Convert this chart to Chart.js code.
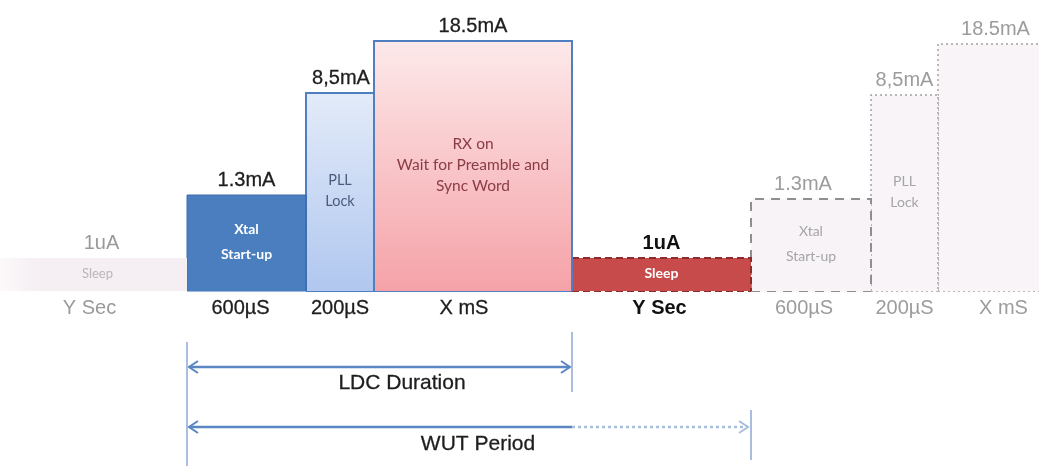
<!DOCTYPE html>
<html>
<head>
<meta charset="utf-8">
<script src="https://cdn.jsdelivr.net/npm/chart.js@4.4.1/dist/chart.umd.min.js"></script>
<style>
  html, body { margin: 0; padding: 0; background: #fff; }
  #wrap { width: 1039px; height: 466px; position: relative; }
</style>
</head>
<body>
<div id="wrap"><canvas id="ldcChart"></canvas></div>
<script>
// timeline in diagram units (not to time scale), level = drawn height of the current step
const phaseNames = ['Sleep', 'Xtal Start-up', 'PLL Lock', 'RX on', 'Sleep', 'Xtal Start-up', 'PLL Lock', 'RX on'];
const boxTexts = [['Sleep'], ['Xtal', 'Start-up'], ['PLL', 'Lock'], ['RX on', 'Wait for Preamble and', 'Sync Word'], ['Sleep'], ['Xtal', 'Start-up'], ['PLL', 'Lock'], []];
const currentLabels = ['1uA', '1.3mA', '8,5mA', '18.5mA', '1uA', '1.3mA', '8,5mA', '18.5mA'];
const durationLabels = ['Y Sec', '600µS', '200µS', 'X mS', 'Y Sec', '600µS', '200µS', 'X mS'];
const phaseStart = [0, 187, 306, 374, 572, 751, 871, 938];
const phaseEnd = [187, 306, 374, 572, 751, 871, 938, 1045];
const levels = [33, 96, 198, 250, 33, 92, 196, 247];

const ldcSpan = [187, 572];
const wutSpan = [187, 751];

// layout (diagram units below the baseline)
const ldcArrowY = -76;
const wutArrowY = -136;
const arrowColor = '#5b86c4';
const labelFont = '"Liberation Sans", Arial, sans-serif';
const boxFont = 'Lato, "Open Sans", sans-serif';

// look of each phase
const phaseStyles = [
  { fill: 'fadeH', border: null, text: '#bdb5ba', textSize: 13, textWeight: 'normal', labelColor: '#9a9a9a', labelWeight: 'normal', dx: 8, durDx: -4 },
  { fill: '#4a7ebf', border: '#3d6eae', width: 1, dash: [], text: '#ffffff', textSize: 14, textWeight: 'bold', labelColor: '#1e1e1e', labelWeight: 'normal', dx: 0, durDx: -6 },
  { fill: ['#e3ebf9', '#b0c7ef'], border: '#4f7fc0', width: 2, dash: [], text: '#4b5b7d', textSize: 14.5, textWeight: 'normal', labelColor: '#1e1e1e', labelWeight: 'normal', dx: 1, durDx: 0 },
  { fill: ['#fde9ea', '#f5a2a8'], border: '#4f7fc0', width: 2, dash: [], text: '#8a3c45', textSize: 15.5, textWeight: 'normal', labelColor: '#1e1e1e', labelWeight: 'normal', dx: 0, durDx: -9 },
  { fill: '#c84b4b', border: '#8c2b2b', width: 2, dash: [7, 4], text: '#ffffff', textSize: 14, textWeight: 'bold', labelColor: '#111111', labelWeight: 'bold', dx: 0, durDx: -2 },
  { fill: '#f7f3f7', border: '#8f8f8f', width: 2, dash: [9, 7], text: '#a5a5a5', textSize: 14, textWeight: 'normal', labelColor: '#9c9c9c', labelWeight: 'normal', dx: -8, durDx: -7 },
  { fill: '#f8f4f8', border: '#a3a3a3', width: 1.5, dash: [2, 3], text: '#a5a5a5', textSize: 14, textWeight: 'normal', labelColor: '#9c9c9c', labelWeight: 'normal', dx: 0, durDx: 0 },
  { fill: '#f8f4f8', border: '#a3a3a3', width: 1.5, dash: [2, 3], text: '#a5a5a5', textSize: 14, textWeight: 'normal', labelColor: '#9c9c9c', labelWeight: 'normal', dx: 7, durDx: 15 }
];

function phaseFill(i) {
  const style = phaseStyles[i];
  return function (context) {
    const chart = context.chart;
    if (!chart.chartArea) return 'transparent';
    const xs = chart.scales.x;
    const ys = chart.scales.y;
    if (style.fill === 'fadeH') {
      const g = chart.ctx.createLinearGradient(xs.getPixelForValue(phaseStart[i]), 0, xs.getPixelForValue(phaseStart[i] + 40), 0);
      g.addColorStop(0, 'rgba(244,236,241,0.3)');
      g.addColorStop(1, '#f5eef3');
      return g;
    }
    if (Array.isArray(style.fill)) {
      const g = chart.ctx.createLinearGradient(0, ys.getPixelForValue(levels[i]), 0, ys.getPixelForValue(0));
      g.addColorStop(0, style.fill[0]);
      g.addColorStop(1, style.fill[1]);
      return g;
    }
    return style.fill;
  };
}

const datasets = [];

phaseNames.forEach((name, i) => {
  const s = phaseStart[i], e = phaseEnd[i], h = levels[i];
  const style = phaseStyles[i];
  // left, top and right edge, filled down to the baseline
  datasets.push({
    label: name,
    data: [{ x: s, y: 0 }, { x: s, y: h }, { x: e, y: h }, { x: e, y: 0 }],
    fill: 'origin',
    backgroundColor: phaseFill(i),
    borderColor: style.border || 'transparent',
    borderWidth: style.border ? style.width : 0,
    borderDash: style.dash || [],
    borderJoinStyle: 'miter',
    pointRadius: 0,
    tension: 0,
    clip: false
  });
});

// bottom edges, drawn after the fills
phaseNames.forEach((name, i) => {
  const style = phaseStyles[i];
  if (!style.border) return;
  datasets.push({
    label: name + ' base',
    data: [{ x: phaseStart[i], y: 0 }, { x: phaseEnd[i], y: 0 }],
    fill: false,
    borderColor: style.border,
    borderWidth: style.width,
    borderDash: style.dash || [],
    pointRadius: 0,
    clip: false
  });
});

function guideLine(x, y0, y1) {
  return {
    data: [{ x: x, y: y0 }, { x: x, y: y1 }],
    borderColor: '#8ea8d3', borderWidth: 1.5, pointRadius: 0, fill: false
  };
}

function arrowLine(x0, x1, y, dash, color) {
  return {
    data: [{ x: x0, y: y }, { x: x1, y: y }],
    borderColor: color, borderWidth: 2.5, borderDash: dash, pointRadius: 0, fill: false
  };
}

function arrowHead(x, y, dir, color) {
  return {
    data: [{ x: x + dir * 9, y: y + 6 }, { x: x, y: y }, { x: x + dir * 9, y: y - 6 }],
    borderColor: color, borderWidth: 2, pointRadius: 0, fill: false, borderJoinStyle: 'miter'
  };
}

datasets.push(guideLine(ldcSpan[0], -51, -175));
datasets.push(guideLine(ldcSpan[1], -41, -101));
datasets.push(guideLine(wutSpan[1], -119, -169));
datasets.push(arrowLine(ldcSpan[0] + 2, ldcSpan[1] - 2, ldcArrowY, [], arrowColor));
datasets.push(arrowHead(ldcSpan[0] + 2, ldcArrowY, 1, arrowColor));
datasets.push(arrowHead(ldcSpan[1] - 2, ldcArrowY, -1, arrowColor));
datasets.push(arrowLine(wutSpan[0] + 2, ldcSpan[1], wutArrowY, [], arrowColor));
datasets.push(arrowLine(ldcSpan[1], wutSpan[1] - 3, wutArrowY, [3, 3], '#a9bedf'));
datasets.push(arrowHead(wutSpan[0] + 2, wutArrowY, 1, arrowColor));
datasets.push(arrowHead(wutSpan[1] - 3, wutArrowY, -1, '#a9bedf'));

// dark labels get a thin outline, the source text looks slightly heavy
function labelText(ctx, text, x, y, color, weight) {
  ctx.fillStyle = color;
  ctx.fillText(text, x, y);
  if (weight === 'normal' && color === '#1e1e1e') {
    ctx.strokeStyle = color;
    ctx.lineWidth = 0.3;
    ctx.strokeText(text, x, y);
  }
}

// all text of the diagram, positioned through the scales
const diagramText = {
  id: 'diagramText',
  afterDatasetsDraw(chart) {
    const ctx = chart.ctx;
    const xs = chart.scales.x;
    const ys = chart.scales.y;
    ctx.save();
    ctx.textAlign = 'center';
    ctx.textBaseline = 'middle';

    phaseNames.forEach((name, i) => {
      const style = phaseStyles[i];
      const end = Math.min(phaseEnd[i], 1039);
      const cx = xs.getPixelForValue((phaseStart[i] + end) / 2);
      const top = ys.getPixelForValue(levels[i]);
      const base = ys.getPixelForValue(0);

      ctx.font = style.labelWeight + ' 20px ' + labelFont;
      labelText(ctx, currentLabels[i], cx + style.dx, top - 15, style.labelColor, style.labelWeight);
      labelText(ctx, durationLabels[i], cx + style.durDx, base + 17, style.labelColor, style.labelWeight);

      const lines = boxTexts[i];
      if (lines.length) {
        ctx.fillStyle = style.text;
        ctx.font = style.textWeight + ' ' + style.textSize + 'px ' + boxFont;
        const lh = i === 1 || i === 5 ? 25 : 21;
        const mid = (top + base) / 2 - 1;
        lines.forEach((line, k) => {
          ctx.fillText(line, cx + (i === 0 ? 4 : 0), mid + (k - (lines.length - 1) / 2) * lh);
        });
      }
    });

    ctx.font = '21px ' + labelFont;
    labelText(ctx, 'LDC Duration', xs.getPixelForValue(402), ys.getPixelForValue(ldcArrowY) + 16, '#1e1e1e', 'normal');
    labelText(ctx, 'WUT Period', xs.getPixelForValue(478), ys.getPixelForValue(wutArrowY) + 17, '#1e1e1e', 'normal');
    ctx.restore();
  }
};

new Chart(document.getElementById('ldcChart'), {
  type: 'line',
  data: { datasets: datasets },
  options: {
    responsive: true,
    maintainAspectRatio: false,
    animation: false,
    events: [],
    layout: { padding: 0 },
    scales: {
      x: { type: 'linear', min: 0, max: 1039, display: false },
      y: { type: 'linear', min: -175, max: 291, display: false }
    },
    plugins: {
      legend: { display: false },
      tooltip: { enabled: false },
      title: { display: false }
    }
  },
  plugins: [diagramText]
});
</script>
</body>
</html>
